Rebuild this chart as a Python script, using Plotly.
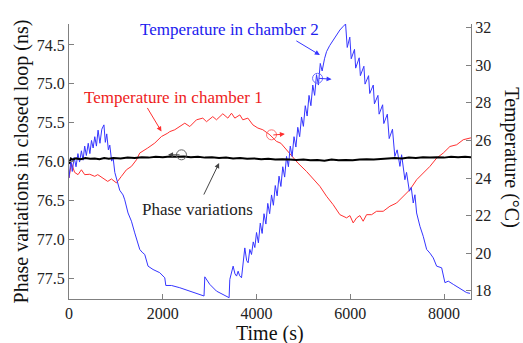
import plotly.graph_objects as go

# ---------------- data ----------------
# Temperature in chamber 1 (red, right axis, degC)
red_t = [0, 51, 120, 192, 265, 335, 442, 549, 613, 719, 826, 905, 1012, 1118, 1225, 1332,
         1439, 1509, 1600, 1680, 1829, 1972, 2107, 2149, 2256, 2363, 2470, 2577, 2719, 2854,
         2933, 3067, 3146, 3281, 3388, 3466, 3537, 3644, 3708, 3815, 3922, 4029, 4135, 4285,
         4427, 4520, 4605, 4747, 4882, 5067, 5202, 5351, 5494, 5635, 5778, 5921, 5992, 6062,
         6135, 6205, 6275, 6348, 6455, 6561, 6702, 6845, 6988, 7129, 7272, 7415, 7556, 7699,
         7842, 7983, 8126, 8269, 8410, 8574]
red_temp = [24.0, 24.8, 24.3, 24.18, 24.44, 24.18, 24.2, 24.09, 24.18, 24.0, 23.82, 23.95, 23.74,
            24.09, 24.44, 24.62, 24.97, 25.33, 25.45, 25.6, 25.86, 26.21, 26.39, 26.47, 26.57,
            26.74, 26.92, 26.74, 27.1, 27.19, 27.0, 27.27, 27.1, 27.42, 27.19, 27.45, 27.19,
            27.36, 27.1, 27.19, 26.83, 26.66, 26.57, 26.3, 25.95, 25.85, 25.6, 25.24, 24.8,
            24.35, 24.0, 23.56, 23.03, 22.58, 22.05, 21.88, 22.0, 21.61, 21.88, 22.0, 21.7,
            22.05, 22.05, 22.23, 22.23, 22.5, 22.67, 23.03, 23.38, 23.91, 24.27, 24.62, 25.06,
            25.33, 25.68, 25.77, 26.04, 26.14]

# Temperature in chamber 2 (blue, right axis, degC)
blue_t = [0, 40, 70, 110, 150, 190, 225, 265, 300, 335, 370, 410, 445, 480, 515, 550, 585, 620,
          660, 700, 745, 775, 805, 840, 870, 910, 940, 977, 1010, 1046, 1082, 1153, 1189, 1259,
          1332, 1402, 1509, 1560, 1616, 1686, 1793, 1936, 2043, 2065, 2186, 2363, 2577, 2790,
          2880, 2897, 3003, 3146, 3287, 3415, 3430, 3501, 3540, 3574, 3608, 3640, 3680, 3750,
          3790, 3821, 3857, 3893, 3930, 3964,
          4000, 4040, 4080, 4120, 4160, 4200, 4240, 4280, 4320, 4360, 4400, 4440, 4480, 4520,
          4560, 4600, 4640, 4680, 4720, 4760, 4800, 4840, 4880, 4920, 4960, 5000, 5040, 5080,
          5120, 5160, 5200, 5240, 5280, 5320, 5360, 5400,
          5450, 5494, 5560, 5635, 5700, 5778, 5840, 5900,
          5935, 5990, 6020, 6090, 6115, 6190, 6215, 6290, 6315, 6390, 6415, 6490, 6515, 6590,
          6615, 6690, 6715, 6790, 6830, 6900, 6950, 7000, 7059, 7095, 7165, 7200, 7260, 7300,
          7343, 7379, 7415, 7486, 7556, 7629, 7700, 7770, 7842, 7949, 8019, 8090, 8197, 8340,
          8482, 8553]
blue_temp = [24.0, 24.95, 24.35, 25.1, 24.6, 25.3, 24.85, 25.45, 24.95, 25.7, 25.2, 25.85, 25.3,
             26.0, 25.6, 26.2, 25.7, 26.55, 25.85, 26.6, 26.83, 25.9, 26.35, 25.5, 25.75, 24.9,
             25.1, 24.3, 24.0, 23.6, 23.35, 23.1, 22.84, 22.14, 21.7, 21.08, 20.2, 20.05, 19.93,
             19.31, 19.13, 18.96, 18.69, 18.28, 18.28, 18.16, 17.98, 17.8, 17.72, 18.74, 18.34,
             17.98, 17.8, 17.63, 18.6, 19.31, 18.9, 18.78, 19.04, 18.8, 18.69, 20.28, 19.6,
             19.49, 20.2, 19.93, 20.6, 20.3,
             21.1, 20.55, 21.6, 21.05, 22.1, 21.55, 22.65, 22.1, 23.1, 22.55, 23.6, 23.05, 24.1,
             23.55, 24.6, 24.05, 25.15, 24.6, 25.7, 25.15, 26.2, 25.65, 26.7, 26.2, 27.25, 26.75,
             27.85, 27.3, 28.4, 27.85, 28.95, 28.4, 29.5, 28.95, 30.1, 29.7,
             30.35, 30.73, 31.05, 31.35, 31.62, 31.88, 32.05, 32.2,
             30.95, 31.5, 30.35, 30.85, 29.85, 30.4, 29.45, 29.95, 29.0, 29.45, 28.5, 28.95,
             27.95, 28.4, 27.4, 27.9, 26.9, 27.4, 26.1, 26.6, 25.15, 25.5, 24.62, 25.24, 23.91,
             24.3, 23.3, 23.5, 22.67, 23.11, 22.14, 21.43, 20.9, 20.2, 20.0, 19.75, 19.31, 19.22,
             18.43, 18.51, 18.34, 18.11, 17.9, 17.86]

# Phase variations in closed loop (black, left axis, ns)
phase_t = [0, 40, 80, 150, 250, 350, 450, 550, 650, 750, 850, 950, 1100, 1250, 1400, 1550,
           1700, 1850, 2000, 2150, 2300, 2450, 2600, 2750, 2900, 3050, 3200, 3350, 3500, 3650,
           3800, 3950, 4100, 4250, 4400, 4550, 4700, 4850, 5000, 5150, 5300, 5450, 5600, 5750,
           5900, 6050, 6200, 6350, 6500, 6650, 6800, 6950, 7100, 7250, 7400, 7550, 7700, 7850,
           8000, 8150, 8300, 8450, 8575]
phase_ns = [76.03, 75.96, 75.975, 75.96, 75.97, 75.955, 75.965, 75.96, 75.97, 75.955, 75.965,
            75.955, 75.96, 75.95, 75.955, 75.945, 75.95, 75.94, 75.945, 75.935, 75.94, 75.935,
            75.945, 75.94, 75.95, 75.945, 75.955, 75.95, 75.96, 75.955, 75.965, 75.96, 75.97,
            75.965, 75.975, 75.97, 75.975, 75.98, 75.975, 75.985, 75.98, 75.99, 75.975, 75.985,
            75.98, 75.985, 75.975, 75.97, 75.975, 75.965, 75.96, 75.955, 75.96, 75.95, 75.955,
            75.945, 75.95, 75.945, 75.95, 75.94, 75.945, 75.94, 75.945]

x_ticks = [0, 2000, 4000, 6000, 8000]
phase_ticks = [74.5, 75.0, 75.5, 76.0, 76.5, 77.0, 77.5]
temp_ticks = [18, 20, 22, 24, 26, 28, 30, 32]

# ---------------- figure ----------------
FONT = "Liberation Serif"
AX = "#808080"


def tfont():
    return dict(family=FONT, size=16, color="#222")


fig = go.Figure()
fig.add_trace(go.Scatter(x=red_t, y=red_temp, mode="lines", yaxis="y",
                         line=dict(color="#ff3030", width=1), showlegend=False))
fig.add_trace(go.Scatter(x=blue_t, y=blue_temp, mode="lines", yaxis="y",
                         line=dict(color="#3535ff", width=1), showlegend=False))
fig.add_trace(go.Scatter(x=phase_t, y=phase_ns, mode="lines", yaxis="y2",
                         line=dict(color="#000000", width=2), showlegend=False))

common = dict(showgrid=False, zeroline=False, showline=True, linecolor=AX, linewidth=1,
              ticks="inside", ticklen=5, tickcolor=AX)

fig.update_layout(
    width=523, height=343,
    margin=dict(l=69, r=52, t=24, b=44),
    paper_bgcolor="white", plot_bgcolor="white",
    font=dict(family=FONT, size=16, color="#222"),
    xaxis=dict(range=[0, 8575], tickvals=x_ticks, tickfont=tfont(), **common),
    yaxis=dict(range=[17.56, 32.2], tickvals=temp_ticks, side="right", tickfont=tfont(), **common),
    yaxis2=dict(range=[77.77, 74.23], tickvals=phase_ticks, tickformat=".1f",
                overlaying="y", side="left", tickfont=tfont(), **common),
)

annots = [
    # axis titles
    dict(text="Time (s)", xref="paper", yref="paper", x=0.5, y=-0.124, showarrow=False,
         font=dict(family=FONT, size=20, color="#111"), xanchor="center", yanchor="middle"),
    dict(text="Phase variations in closed loop (ns)", xref="paper", yref="paper", x=-0.117, y=0.5,
         textangle=-90, showarrow=False, font=dict(family=FONT, size=20, color="#111"),
         xanchor="center", yanchor="middle"),
    dict(text="Temperature (°C)", xref="paper", yref="paper", x=1.102, y=0.515,
         textangle=90, showarrow=False, font=dict(family=FONT, size=20, color="#111"),
         xanchor="center", yanchor="middle"),
    # labels
    dict(text="Temperature in chamber 2", x=3430, y=31.9, xref="x", yref="y", showarrow=False,
         font=dict(family=FONT, size=17, color="#2020ee")),
    dict(text="Temperature in chamber 1", x=2235, y=28.3, xref="x", yref="y", showarrow=False,
         font=dict(family=FONT, size=17, color="#ee1c1c")),
    dict(text="Phase variations", x=2736, y=22.3, xref="x", yref="y", showarrow=False,
         font=dict(family=FONT, size=17, color="#222")),
    # pointer arrows
    dict(text="", x=5351, y=30.55, xref="x", yref="y", ax=-25, ay=-15, showarrow=True,
         arrowhead=2, arrowsize=1, arrowwidth=1, arrowcolor="#3535ff"),
    dict(text="", x=1972, y=26.48, xref="x", yref="y", ax=-15, ay=-25, showarrow=True,
         arrowhead=2, arrowsize=1, arrowwidth=1, arrowcolor="#ff3030"),
    dict(text="", x=3202, y=76.02, xref="x", yref="y2", ax=-16, ay=33, showarrow=True,
         arrowhead=2, arrowsize=1, arrowwidth=1, arrowcolor="#444"),
    # axis-indicator arrows
    dict(text="", x=5601, y=29.26, xref="x", yref="y", ax=-14, ay=-1, showarrow=True,
         arrowhead=2, arrowsize=1, arrowwidth=1, arrowcolor="#3535ff"),
    dict(text="", x=4604, y=26.34, xref="x", yref="y", ax=-13, ay=1, showarrow=True,
         arrowhead=2, arrowsize=1, arrowwidth=1, arrowcolor="#ff3030"),
    dict(text="", x=2113, y=75.914, xref="x", yref="y2", ax=13, ay=0, showarrow=True,
         arrowhead=2, arrowsize=1, arrowwidth=1, arrowcolor="#444"),
]
fig.update_layout(annotations=annots)

circles = [
    ("y", 5302, 29.31, "#6a6aff"),
    ("y", 4320, 26.30, "#ff7070"),
    ("y2", 2399, 75.914, "#666"),
]
shapes = []
for yr, cx, cy, col in circles:
    shapes.append(dict(type="circle", xref="x", yref=yr, xsizemode="pixel", ysizemode="pixel",
                       xanchor=cx, yanchor=cy, x0=-5, x1=5, y0=-5, y1=5,
                       line=dict(color=col, width=1)))
fig.update_layout(shapes=shapes)

fig.write_html("out.html")
